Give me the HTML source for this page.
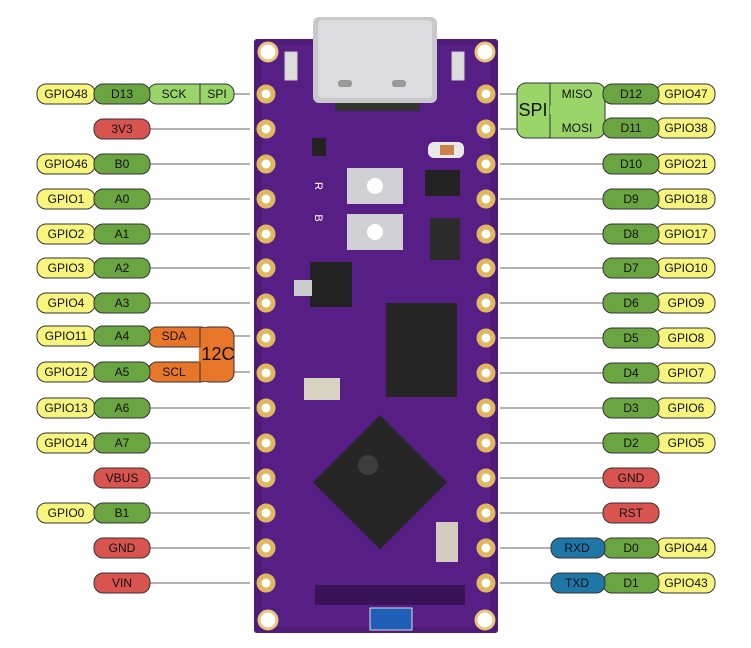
<!DOCTYPE html>
<html><head><meta charset="utf-8"><style>
html,body{margin:0;padding:0;background:#fff;}
svg{display:block;}
text{font-family:"Liberation Sans",Arial,sans-serif;font-size:12px;text-anchor:middle;dominant-baseline:central;fill:#111;}
.y{fill:#f7f57e;stroke:#333;stroke-width:1}
.g{fill:#6ba542;stroke:#333;stroke-width:1}
.lg{fill:#9ad56a;stroke:#333;stroke-width:1}
.r{fill:#d9534f;stroke:#333;stroke-width:1}
.o{fill:#e8762a;stroke:#333;stroke-width:1}
.b{fill:#1f77a8;stroke:#333;stroke-width:1}
.ln{stroke:#666;stroke-width:1}
</style></head><body>
<svg width="751" height="648" viewBox="0 0 751 648" xmlns="http://www.w3.org/2000/svg">
<rect x="254" y="39" width="244" height="594" rx="3" fill="#4f1a78"/>
<rect x="262" y="45" width="228" height="582" fill="#5d2390" opacity="0.6"/>
<rect x="313" y="17" width="124" height="86" rx="6" fill="#c9c9cc"/>
<rect x="318" y="20" width="114" height="78" rx="4" fill="#dcdcde"/>
<rect x="338" y="80" width="14" height="7" rx="3" fill="#999"/>
<rect x="392" y="80" width="14" height="7" rx="3" fill="#999"/>
<rect x="335" y="103" width="85" height="8" fill="#333"/>
<rect x="285" y="52" width="12" height="28" fill="#ddd" stroke="#ccc"/>
<rect x="452" y="52" width="12" height="28" fill="#ddd" stroke="#ccc"/>
<rect x="347" y="168" width="56" height="36" fill="#d0d0d4"/>
<circle cx="375" cy="186" r="8" fill="#fff"/>
<rect x="347" y="214" width="56" height="36" fill="#d0d0d4"/>
<circle cx="375" cy="232" r="8" fill="#fff"/>
<text x="318" y="186" style="fill:#fff;font-size:11px" transform="rotate(90 318 186)">R</text>
<text x="318" y="218" style="fill:#fff;font-size:11px" transform="rotate(90 318 218)">B</text>
<rect x="312" y="138" width="14" height="18" fill="#222"/>
<rect x="428" y="142" width="36" height="16" rx="6" fill="#e9e9e9"/>
<rect x="440" y="145" width="14" height="10" fill="#c8844a"/>
<rect x="425" y="170" width="35" height="26" fill="#222"/>
<rect x="430" y="218" width="30" height="42" fill="#2b2b2b"/>
<rect x="310" y="262" width="42" height="45" fill="#222"/>
<rect x="294" y="280" width="18" height="16" fill="#ccc"/>
<rect x="304" y="378" width="36" height="22" fill="#d8d2c0"/>
<rect x="386" y="303" width="71" height="94" fill="#262626"/>
<rect x="332" y="435" width="95" height="95" fill="#262626" transform="rotate(45 380 483)"/>
<circle cx="368" cy="465" r="10" fill="#3d3d3d"/>
<rect x="436" y="522" width="22" height="40" fill="#d4ccc0"/>
<rect x="315" y="585" width="150" height="20" fill="#3a1258"/>
<rect x="370" y="608" width="42" height="22" fill="#1f5fb8" stroke="#ddd"/>
<g fill="#fff" stroke="#e8c77a" stroke-width="3">
<circle cx="268" cy="52" r="9"/><circle cx="485" cy="52" r="9"/>
<circle cx="268" cy="620" r="9"/><circle cx="485" cy="620" r="9"/>
</g>
<g fill="#fff" stroke="#e0b860" stroke-width="5">
<circle cx="266" cy="94" r="7"/><circle cx="266" cy="129" r="7"/><circle cx="266" cy="164" r="7"/><circle cx="266" cy="199" r="7"/><circle cx="266" cy="234" r="7"/><circle cx="266" cy="268" r="7"/><circle cx="266" cy="303" r="7"/><circle cx="266" cy="338" r="7"/><circle cx="266" cy="373" r="7"/><circle cx="266" cy="408" r="7"/><circle cx="266" cy="443" r="7"/><circle cx="266" cy="478" r="7"/><circle cx="266" cy="513" r="7"/><circle cx="266" cy="548" r="7"/><circle cx="266" cy="583" r="7"/>
<circle cx="486" cy="94" r="7"/><circle cx="486" cy="129" r="7"/><circle cx="486" cy="164" r="7"/><circle cx="486" cy="199" r="7"/><circle cx="486" cy="234" r="7"/><circle cx="486" cy="268" r="7"/><circle cx="486" cy="303" r="7"/><circle cx="486" cy="338" r="7"/><circle cx="486" cy="373" r="7"/><circle cx="486" cy="408" r="7"/><circle cx="486" cy="443" r="7"/><circle cx="486" cy="478" r="7"/><circle cx="486" cy="513" r="7"/><circle cx="486" cy="548" r="7"/><circle cx="486" cy="583" r="7"/>
</g>
<g class="ln">
<line x1="234" y1="94" x2="250" y2="94"/>
<line x1="148" y1="129" x2="250" y2="129"/>
<line x1="148" y1="164" x2="250" y2="164"/>
<line x1="148" y1="199" x2="250" y2="199"/>
<line x1="148" y1="234" x2="250" y2="234"/>
<line x1="148" y1="268" x2="250" y2="268"/>
<line x1="148" y1="303" x2="250" y2="303"/>
<line x1="234" y1="336" x2="250" y2="336"/>
<line x1="234" y1="372" x2="250" y2="372"/>
<line x1="148" y1="408" x2="250" y2="408"/>
<line x1="148" y1="443" x2="250" y2="443"/>
<line x1="148" y1="478" x2="250" y2="478"/>
<line x1="148" y1="513" x2="250" y2="513"/>
<line x1="148" y1="548" x2="250" y2="548"/>
<line x1="148" y1="583" x2="250" y2="583"/>
<line x1="500" y1="94" x2="517" y2="94"/>
<line x1="500" y1="129" x2="517" y2="129"/>
<line x1="500" y1="164" x2="603" y2="164"/>
<line x1="500" y1="199" x2="603" y2="199"/>
<line x1="500" y1="234" x2="603" y2="234"/>
<line x1="500" y1="268" x2="603" y2="268"/>
<line x1="500" y1="303" x2="603" y2="303"/>
<line x1="500" y1="338" x2="603" y2="338"/>
<line x1="500" y1="373" x2="603" y2="373"/>
<line x1="500" y1="408" x2="603" y2="408"/>
<line x1="500" y1="443" x2="603" y2="443"/>
<line x1="500" y1="478" x2="603" y2="478"/>
<line x1="500" y1="513" x2="603" y2="513"/>
<line x1="500" y1="548" x2="551" y2="548"/>
<line x1="500" y1="583" x2="551" y2="583"/>
</g>
<g>
<rect class="lg" x="148" y="84" width="86" height="20" rx="9"/><line x1="200" y1="84" x2="200" y2="104" stroke="#333"/>
<text x="174" y="94">SCK</text><text x="217" y="94">SPI</text>
<rect class="y" x="37" y="84" width="58" height="20" rx="9"/><text x="66" y="94">GPIO48</text>
<rect class="g" x="94" y="84" width="56" height="20" rx="9"/><text x="122" y="94">D13</text>
<rect class="r" x="94" y="119" width="56" height="20" rx="9"/><text x="122" y="129">3V3</text>
<rect class="y" x="37" y="154" width="58" height="20" rx="9"/><text x="66" y="164">GPIO46</text>
<rect class="g" x="94" y="154" width="56" height="20" rx="9"/><text x="122" y="164">B0</text>
<rect class="y" x="37" y="189" width="58" height="20" rx="9"/><text x="66" y="199">GPIO1</text>
<rect class="g" x="94" y="189" width="56" height="20" rx="9"/><text x="122" y="199">A0</text>
<rect class="y" x="37" y="224" width="58" height="20" rx="9"/><text x="66" y="234">GPIO2</text>
<rect class="g" x="94" y="224" width="56" height="20" rx="9"/><text x="122" y="234">A1</text>
<rect class="y" x="37" y="258" width="58" height="20" rx="9"/><text x="66" y="268">GPIO3</text>
<rect class="g" x="94" y="258" width="56" height="20" rx="9"/><text x="122" y="268">A2</text>
<rect class="y" x="37" y="293" width="58" height="20" rx="9"/><text x="66" y="303">GPIO4</text>
<rect class="g" x="94" y="293" width="56" height="20" rx="9"/><text x="122" y="303">A3</text>
<rect class="o" x="148" y="327" width="62" height="20" rx="9"/>
<rect class="o" x="148" y="362" width="62" height="20" rx="9"/>
<rect class="o" x="200" y="327" width="34" height="55" rx="9"/>
<rect x="199" y="328" width="8" height="53" fill="#e8762a"/>
<line x1="200" y1="327" x2="200" y2="347" stroke="#333"/>
<line x1="200" y1="362" x2="200" y2="382" stroke="#333"/>
<text x="174" y="336">SDA</text><text x="174" y="372">SCL</text>
<text x="218" y="354" style="font-size:18px">12C</text>
<rect class="y" x="37" y="326" width="58" height="20" rx="9"/><text x="66" y="336">GPIO11</text>
<rect class="g" x="94" y="326" width="56" height="20" rx="9"/><text x="122" y="336">A4</text>
<rect class="y" x="37" y="362" width="58" height="20" rx="9"/><text x="66" y="372">GPIO12</text>
<rect class="g" x="94" y="362" width="56" height="20" rx="9"/><text x="122" y="372">A5</text>
<rect class="y" x="37" y="398" width="58" height="20" rx="9"/><text x="66" y="408">GPIO13</text>
<rect class="g" x="94" y="398" width="56" height="20" rx="9"/><text x="122" y="408">A6</text>
<rect class="y" x="37" y="433" width="58" height="20" rx="9"/><text x="66" y="443">GPIO14</text>
<rect class="g" x="94" y="433" width="56" height="20" rx="9"/><text x="122" y="443">A7</text>
<rect class="r" x="94" y="468" width="56" height="20" rx="9"/><text x="122" y="478">VBUS</text>
<rect class="y" x="37" y="503" width="58" height="20" rx="9"/><text x="66" y="513">GPIO0</text>
<rect class="g" x="94" y="503" width="56" height="20" rx="9"/><text x="122" y="513">B1</text>
<rect class="r" x="94" y="538" width="56" height="20" rx="9"/><text x="122" y="548">GND</text>
<rect class="r" x="94" y="573" width="56" height="20" rx="9"/><text x="122" y="583">VIN</text>
</g>
<g>
<rect class="lg" x="517" y="83" width="88" height="55" rx="9"/>
<line x1="550" y1="83" x2="550" y2="138" stroke="#333"/>
<line x1="550" y1="110" x2="603" y2="110" stroke="#9ad56a" stroke-width="8"/>
<text x="533" y="110" style="font-size:18px">SPI</text>
<text x="577" y="94">MISO</text><text x="577" y="128">MOSI</text>
<rect class="y" x="656" y="84" width="59" height="20" rx="9"/><text x="686" y="94">GPIO47</text>
<rect class="g" x="603" y="84" width="56" height="20" rx="9"/><text x="631" y="94">D12</text>
<rect class="y" x="656" y="118" width="59" height="20" rx="9"/><text x="686" y="128">GPIO38</text>
<rect class="g" x="603" y="118" width="56" height="20" rx="9"/><text x="631" y="128">D11</text>
<rect class="y" x="656" y="154" width="59" height="20" rx="9"/><text x="686" y="164">GPIO21</text>
<rect class="g" x="603" y="154" width="56" height="20" rx="9"/><text x="631" y="164">D10</text>
<rect class="y" x="656" y="189" width="59" height="20" rx="9"/><text x="686" y="199">GPIO18</text>
<rect class="g" x="603" y="189" width="56" height="20" rx="9"/><text x="631" y="199">D9</text>
<rect class="y" x="656" y="224" width="59" height="20" rx="9"/><text x="686" y="234">GPIO17</text>
<rect class="g" x="603" y="224" width="56" height="20" rx="9"/><text x="631" y="234">D8</text>
<rect class="y" x="656" y="258" width="59" height="20" rx="9"/><text x="686" y="268">GPIO10</text>
<rect class="g" x="603" y="258" width="56" height="20" rx="9"/><text x="631" y="268">D7</text>
<rect class="y" x="656" y="293" width="59" height="20" rx="9"/><text x="686" y="303">GPIO9</text>
<rect class="g" x="603" y="293" width="56" height="20" rx="9"/><text x="631" y="303">D6</text>
<rect class="y" x="656" y="328" width="59" height="20" rx="9"/><text x="686" y="338">GPIO8</text>
<rect class="g" x="603" y="328" width="56" height="20" rx="9"/><text x="631" y="338">D5</text>
<rect class="y" x="656" y="363" width="59" height="20" rx="9"/><text x="686" y="373">GPIO7</text>
<rect class="g" x="603" y="363" width="56" height="20" rx="9"/><text x="631" y="373">D4</text>
<rect class="y" x="656" y="398" width="59" height="20" rx="9"/><text x="686" y="408">GPIO6</text>
<rect class="g" x="603" y="398" width="56" height="20" rx="9"/><text x="631" y="408">D3</text>
<rect class="y" x="656" y="433" width="59" height="20" rx="9"/><text x="686" y="443">GPIO5</text>
<rect class="g" x="603" y="433" width="56" height="20" rx="9"/><text x="631" y="443">D2</text>
<rect class="r" x="603" y="468" width="56" height="20" rx="9"/><text x="631" y="478">GND</text>
<rect class="r" x="603" y="503" width="56" height="20" rx="9"/><text x="631" y="513">RST</text>
<rect class="y" x="656" y="538" width="59" height="20" rx="9"/><text x="686" y="548">GPIO44</text>
<rect class="g" x="603" y="538" width="56" height="20" rx="9"/><text x="631" y="548">D0</text>
<rect class="b" x="551" y="538" width="54" height="20" rx="9"/><text x="577" y="548">RXD</text>
<rect class="y" x="656" y="573" width="59" height="20" rx="9"/><text x="686" y="583">GPIO43</text>
<rect class="g" x="603" y="573" width="56" height="20" rx="9"/><text x="631" y="583">D1</text>
<rect class="b" x="551" y="573" width="54" height="20" rx="9"/><text x="577" y="583">TXD</text>
</g>
</svg>
</body></html>
